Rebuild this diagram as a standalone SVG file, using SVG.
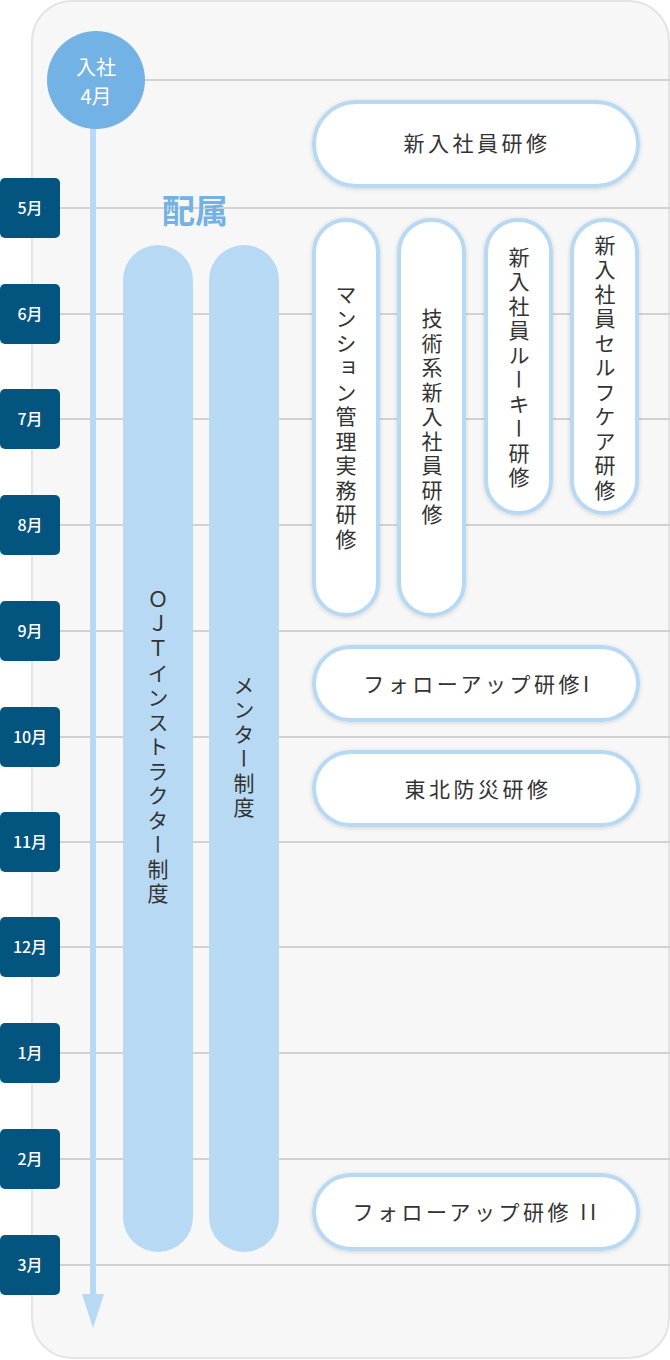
<svg xmlns="http://www.w3.org/2000/svg" width="670" height="1360" viewBox="0 0 670 1360">
<defs>
<style>
.grid{stroke:#d2d2d2;stroke-width:2}
.mbox{fill:#03557f}
.mtxt{fill:#ffffff;font-family:"Noto Sans CJK JP","Noto Sans",sans-serif;font-size:16px;font-weight:500;text-anchor:middle}
.bar{fill:#b8d9f3}
.node{fill:#ffffff;stroke:#b8d9f3;stroke-width:4;filter:url(#sh)}
.t{fill:#333333;font-family:"Noto Sans CJK JP","Noto Sans",sans-serif;font-size:21px;text-anchor:middle;letter-spacing:3.5px}
.v{writing-mode:vertical-rl;dominant-baseline:central}
</style>
<filter id="sh" x="-20%" y="-20%" width="140%" height="140%">
<feDropShadow dx="0" dy="1" stdDeviation="2" flood-color="#000" flood-opacity="0.15"/>
</filter>
</defs>
<rect x="32" y="1" width="637" height="1357" rx="40" fill="#f7f7f7" stroke="#e4e4e4" stroke-width="2"/>
<g id="grid">
<line class="grid" x1="140" y1="80" x2="670" y2="80"/>
<line class="grid" x1="60" y1="208" x2="670" y2="208"/>
<line class="grid" x1="60" y1="314" x2="670" y2="314"/>
<line class="grid" x1="60" y1="419" x2="670" y2="419"/>
<line class="grid" x1="60" y1="525" x2="670" y2="525"/>
<line class="grid" x1="60" y1="631" x2="670" y2="631"/>
<line class="grid" x1="60" y1="737" x2="670" y2="737"/>
<line class="grid" x1="60" y1="842" x2="670" y2="842"/>
<line class="grid" x1="60" y1="947" x2="670" y2="947"/>
<line class="grid" x1="60" y1="1053" x2="670" y2="1053"/>
<line class="grid" x1="60" y1="1159" x2="670" y2="1159"/>
<line class="grid" x1="60" y1="1265" x2="670" y2="1265"/>
</g>
<g id="connectors">
<line x1="93" y1="120" x2="93" y2="1296" stroke="#b8d9f3" stroke-width="6"/>
<path d="M82,1294 L104,1294 L93,1328 Z" fill="#b8d9f3"/>
</g>
<g id="months">
<g id="m5"><rect class="mbox" x="0" y="178" width="60" height="60" rx="5"/><text class="mtxt" x="30" y="214">5月</text></g>
<g id="m6"><rect class="mbox" x="0" y="284" width="60" height="60" rx="5"/><text class="mtxt" x="30" y="320">6月</text></g>
<g id="m7"><rect class="mbox" x="0" y="389" width="60" height="60" rx="5"/><text class="mtxt" x="30" y="425">7月</text></g>
<g id="m8"><rect class="mbox" x="0" y="495" width="60" height="60" rx="5"/><text class="mtxt" x="30" y="531">8月</text></g>
<g id="m9"><rect class="mbox" x="0" y="601" width="60" height="60" rx="5"/><text class="mtxt" x="30" y="637">9月</text></g>
<g id="m10"><rect class="mbox" x="0" y="707" width="60" height="60" rx="5"/><text class="mtxt" x="30" y="743">10月</text></g>
<g id="m11"><rect class="mbox" x="0" y="812" width="60" height="60" rx="5"/><text class="mtxt" x="30" y="848">11月</text></g>
<g id="m12"><rect class="mbox" x="0" y="917" width="60" height="60" rx="5"/><text class="mtxt" x="30" y="953">12月</text></g>
<g id="m1"><rect class="mbox" x="0" y="1023" width="60" height="60" rx="5"/><text class="mtxt" x="30" y="1059">1月</text></g>
<g id="m2"><rect class="mbox" x="0" y="1129" width="60" height="60" rx="5"/><text class="mtxt" x="30" y="1165">2月</text></g>
<g id="m3"><rect class="mbox" x="0" y="1235" width="60" height="60" rx="5"/><text class="mtxt" x="30" y="1271">3月</text></g>
</g>
<g id="start">
<circle cx="96" cy="80" r="49" fill="#72b2e4"/>
<text x="96" y="75" fill="#ffffff" font-family="'Noto Sans CJK JP',sans-serif" font-size="20" text-anchor="middle">入社</text>
<text x="96" y="104" fill="#ffffff" font-family="'Noto Sans CJK JP',sans-serif" font-size="20" text-anchor="middle">4月</text>
</g>
<g id="haizoku">
<text x="195" y="223" fill="#72b2e4" font-family="'Noto Sans CJK JP',sans-serif" font-size="33" font-weight="700" text-anchor="middle">配属</text>
</g>
<g id="ojt">
<rect class="bar" x="123" y="245" width="70" height="1007" rx="35"/>
<text class="t v" x="158" y="748">ＯＪＴインストラクター制度</text>
</g>
<g id="mentor">
<rect class="bar" x="209" y="245" width="70" height="1007" rx="35"/>
<text class="t v" x="244" y="748">メンター制度</text>
</g>
<g id="n-shinnyu">
<rect class="node" x="314" y="102" width="324" height="84" rx="42"/>
<text class="t" x="477" y="151">新入社員研修</text>
</g>
<g id="n-mansion">
<rect class="node" x="314" y="220" width="64" height="395" rx="32"/>
<text class="t v" x="346" y="418">マンション管理実務研修</text>
</g>
<g id="n-gijutsu">
<rect class="node" x="399" y="220" width="65" height="395" rx="32"/>
<text class="t v" x="432" y="418">技術系新入社員研修</text>
</g>
<g id="n-rookie">
<rect class="node" x="486" y="220" width="65" height="293" rx="32"/>
<text class="t v" x="519" y="369">新入社員ルーキー研修</text>
</g>
<g id="n-selfcare">
<rect class="node" x="572" y="220" width="65" height="293" rx="32"/>
<text class="t v" x="605" y="369">新入社員セルフケア研修</text>
</g>
<g id="n-follow1">
<rect class="node" x="314" y="647" width="324" height="73" rx="36.5"/>
<text class="t" x="478" y="692">フォローアップ研修I</text>
</g>
<g id="n-tohoku">
<rect class="node" x="314" y="752" width="324" height="73" rx="36.5"/>
<text class="t" x="478" y="797">東北防災研修</text>
</g>
<g id="n-follow2">
<rect class="node" x="314" y="1175" width="324" height="74" rx="37"/>
<text class="t" x="476" y="1220">フォローアップ研修 II</text>
</g>
</svg>
